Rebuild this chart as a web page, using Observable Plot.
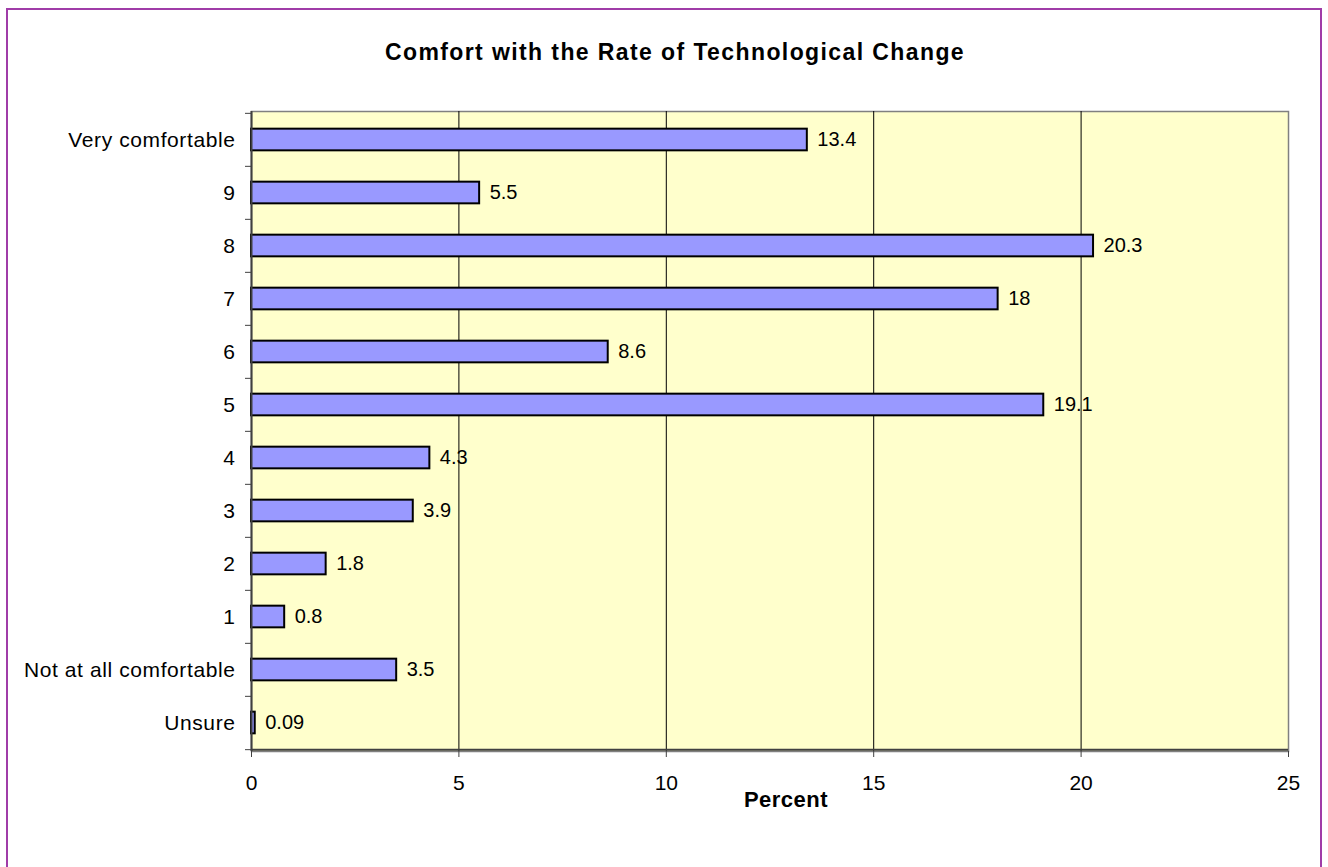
<!DOCTYPE html>
<html>
<head>
<meta charset="utf-8">
<script src="https://cdn.jsdelivr.net/npm/d3@7"></script>
<script src="https://cdn.jsdelivr.net/npm/@observablehq/plot@0.6"></script>
<style>
  html, body { margin: 0; padding: 0; background: #fff; }
  #wrap { position: relative; width: 1328px; height: 867px; overflow: hidden; font-family: "Liberation Sans", Arial, sans-serif; }
  #border { position: absolute; left: 6px; top: 8px; width: 1316px; height: 900px; border: 2px solid #a03ca8; box-sizing: border-box; }
  #title { position: absolute; left: 0; width: 1350px; top: 39px; text-align: center; font-weight: bold; font-size: 23px; letter-spacing: 1.4px; color: #000; }
  #xlabel { position: absolute; left: 0; width: 1572px; top: 787px; text-align: center; font-weight: bold; font-size: 22px; letter-spacing: 0.5px; color: #000; }
  #chart { position: absolute; left: 0; top: 0; }
  #chart svg g[aria-label="y-axis tick label"] text { letter-spacing: 0.6px; }
</style>
</head>
<body>
<div id="wrap">
  <div id="border"></div>
  <div id="title">Comfort with the Rate of Technological Change</div>
  <div id="xlabel">Percent</div>
  <div id="chart"></div>
</div>
<script>
const categories = ["Very comfortable", "9", "8", "7", "6", "5", "4", "3", "2", "1", "Not at all comfortable", "Unsure"];
const values = [13.4, 5.5, 20.3, 18, 8.6, 19.1, 4.3, 3.9, 1.8, 0.8, 3.5, 0.09];
const valueLabels = ["13.4", "5.5", "20.3", "18", "8.6", "19.1", "4.3", "3.9", "1.8", "0.8", "3.5", "0.09"];
const xTicks = [0, 5, 10, 15, 20, 25];
const gridValues = [5, 10, 15, 20];

const data = categories.map((c, i) => ({label: c, value: values[i], text: valueLabels[i]}));

const W = 1328, H = 867;
const mTop = 111, mBottom = 116, mLeft = 251, mRight = 40;
const bw = (H - mTop - mBottom) / categories.length;
const barThick = 22;
const inset = (bw - barThick) / 2;

const chart = Plot.plot({
  width: W,
  height: H,
  marginTop: mTop,
  marginBottom: mBottom,
  marginLeft: mLeft,
  marginRight: mRight,
  style: {fontFamily: "'Liberation Sans', Arial, sans-serif", fontSize: "20px", background: "transparent", color: "#000", overflow: "visible"},
  x: {domain: [0, 25], label: null},
  y: {domain: categories, padding: 0, label: null},
  marks: [
    Plot.frame({fill: "#FFFFCC", stroke: "#808080", strokeWidth: 1.5}),
    Plot.ruleX(gridValues, {stroke: "#000", strokeWidth: 1}),
    Plot.barX(data, {x: "value", y: "label", fill: "#9999FF", stroke: "#000", strokeWidth: 2, insetTop: inset, insetBottom: inset}),
    Plot.text(data, {x: "value", y: "label", text: "text", textAnchor: "start", dx: 10, fontSize: 20, fill: "#000"}),
    Plot.ruleX([0], {stroke: "#404040", strokeWidth: 2}),
    Plot.ruleY([categories[categories.length - 1]], {dy: bw / 2, stroke: "#404040", strokeWidth: 2}),
    Plot.axisY({tickSize: 0, tickPadding: 16, fontSize: 21, label: null}),
    Plot.axisY({tickSize: 6, text: null, dy: -bw / 2, stroke: "#404040", label: null}),
    Plot.axisY([categories[categories.length - 1]], {tickSize: 6, text: null, dy: bw / 2, stroke: "#404040", label: null}),
    Plot.axisX(xTicks, {tickSize: 6, tickPadding: 18, fontSize: 21, stroke: "#404040", label: null})
  ]
});
document.getElementById("chart").appendChild(chart);
</script>
</body>
</html>
